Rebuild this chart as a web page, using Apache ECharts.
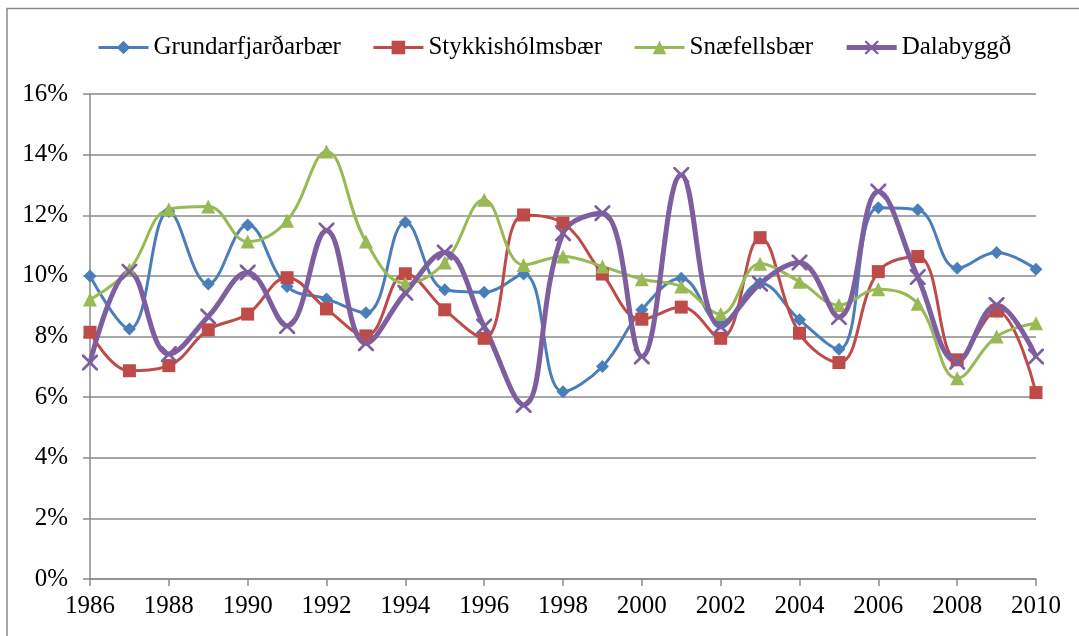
<!DOCTYPE html>
<html>
<head>
<meta charset="utf-8">
<script src="https://cdn.jsdelivr.net/npm/echarts@6/dist/echarts.min.js"></script>
<style>
html,body{margin:0;padding:0;background:#fff;}
#chart{width:1079px;height:636px;}
</style>
</head>
<body>
<div id="chart"></div>
<script>
const years = ['1986','1987','1988','1989','1990','1991','1992','1993','1994','1995','1996','1997','1998','1999','2000','2001','2002','2003','2004','2005','2006','2007','2008','2009','2010'];
const yTicks = [0, 2, 4, 6, 8, 10, 12, 14, 16];
const grundarfjordur = [10.0, 8.25, 12.12, 9.73, 11.68, 9.65, 9.24, 8.78, 11.77, 9.54, 9.46, 10.06, 6.18, 7.01, 8.88, 9.92, 8.44, 9.76, 8.55, 7.58, 12.25, 12.18, 10.25, 10.77, 10.22];
const stykkisholmur = [8.14, 6.87, 7.04, 8.22, 8.74, 9.94, 8.91, 8.02, 10.07, 8.88, 7.94, 12.01, 11.74, 10.06, 8.57, 8.97, 7.94, 11.26, 8.11, 7.14, 10.14, 10.64, 7.23, 8.84, 6.15];
const snaefellsbaer = [9.22, 10.2, 12.2, 12.29, 11.13, 11.82, 14.1, 11.13, 9.75, 10.44, 12.51, 10.36, 10.64, 10.31, 9.89, 9.65, 8.74, 10.4, 9.81, 9.04, 9.56, 9.08, 6.62, 8.0, 8.44];
const dalabyggd = [7.14, 10.14, 7.42, 8.66, 10.11, 8.35, 11.5, 7.78, 9.44, 10.77, 8.33, 5.74, 11.41, 12.07, 7.34, 13.33, 8.33, 9.74, 10.44, 8.64, 12.78, 9.96, 7.17, 9.04, 7.34];
const seriesNames = ['Grundarfjarðarbær', 'Stykkishólmsbær', 'Snæfellsbær', 'Dalabyggð'];

const FONT = '"Liberation Serif", "Times New Roman", serif';
const xSymbol = 'path://M0,0L1.2,0L5,3.8L8.8,0L10,0L10,1.2L6.2,5L10,8.8L10,10L8.8,10L5,6.2L1.2,10L0,10L0,8.8L3.8,5L0,1.2Z';
const colors = ['#4A7EBB', '#BE4B48', '#98B954', '#7D5FA0'];

const chart = echarts.init(document.getElementById('chart'), null, {renderer: 'canvas'});

function mk(name, data, color, symbol, size, width) {
  return {
    name: name,
    type: 'line',
    data: data,
    smooth: 0.4,
    symbol: symbol,
    symbolSize: size,
    showAllSymbol: true,
    lineStyle: {color: color, width: width},
    itemStyle: {color: color},
    emphasis: {disabled: true},
    z: 3
  };
}

chart.setOption({
  animation: false,
  backgroundColor: '#fff',
  graphic: [{
    type: 'polyline',
    shape: {points: [[7, 640], [7, 8.5], [1085, 8.5]]},
    style: {stroke: '#8a8a8a', lineWidth: 1.5, fill: null},
    silent: true
  }],
  legend: {
    top: 30,
    left: 92,
    itemWidth: 50,
    itemHeight: 17,
    itemGap: 31,
    lineStyle: {width: 'inherit'},
    textStyle: {fontFamily: FONT, fontSize: 25, color: '#000', padding: [0, 0, 0, 0]},
    data: seriesNames
  },
  grid: {left: 90, right: 43, top: 94, bottom: 57, containLabel: false},
  xAxis: {
    type: 'category',
    data: years,
    boundaryGap: false,
    axisLine: {lineStyle: {color: '#8a8a8a', width: 1.5}},
    axisTick: {show: true, length: 7, interval: 1, lineStyle: {color: '#8a8a8a', width: 1.5}},
    axisLabel: {interval: 1, margin: 15, fontFamily: FONT, fontSize: 25, color: '#000'},
    splitLine: {show: false}
  },
  yAxis: {
    type: 'value',
    min: yTicks[0],
    max: yTicks[yTicks.length - 1],
    interval: 2,
    axisLine: {show: true, lineStyle: {color: '#8a8a8a', width: 1.5}},
    axisTick: {show: true, length: 7, inside: false, lineStyle: {color: '#8a8a8a', width: 1.5}},
    axisLabel: {margin: 22, fontFamily: FONT, fontSize: 25, color: '#000', formatter: '{value}%'},
    splitLine: {show: true, lineStyle: {color: '#8a8a8a', width: 1.5}}
  },
  series: [
    mk(seriesNames[0], grundarfjordur, colors[0], 'diamond', 13, 3),
    mk(seriesNames[1], stykkisholmur, colors[1], 'rect', 13, 3),
    mk(seriesNames[2], snaefellsbaer, colors[2], 'triangle', 14, 3),
    mk(seriesNames[3], dalabyggd, colors[3], xSymbol, 16, 5)
  ]
});
</script>
</body>
</html>
